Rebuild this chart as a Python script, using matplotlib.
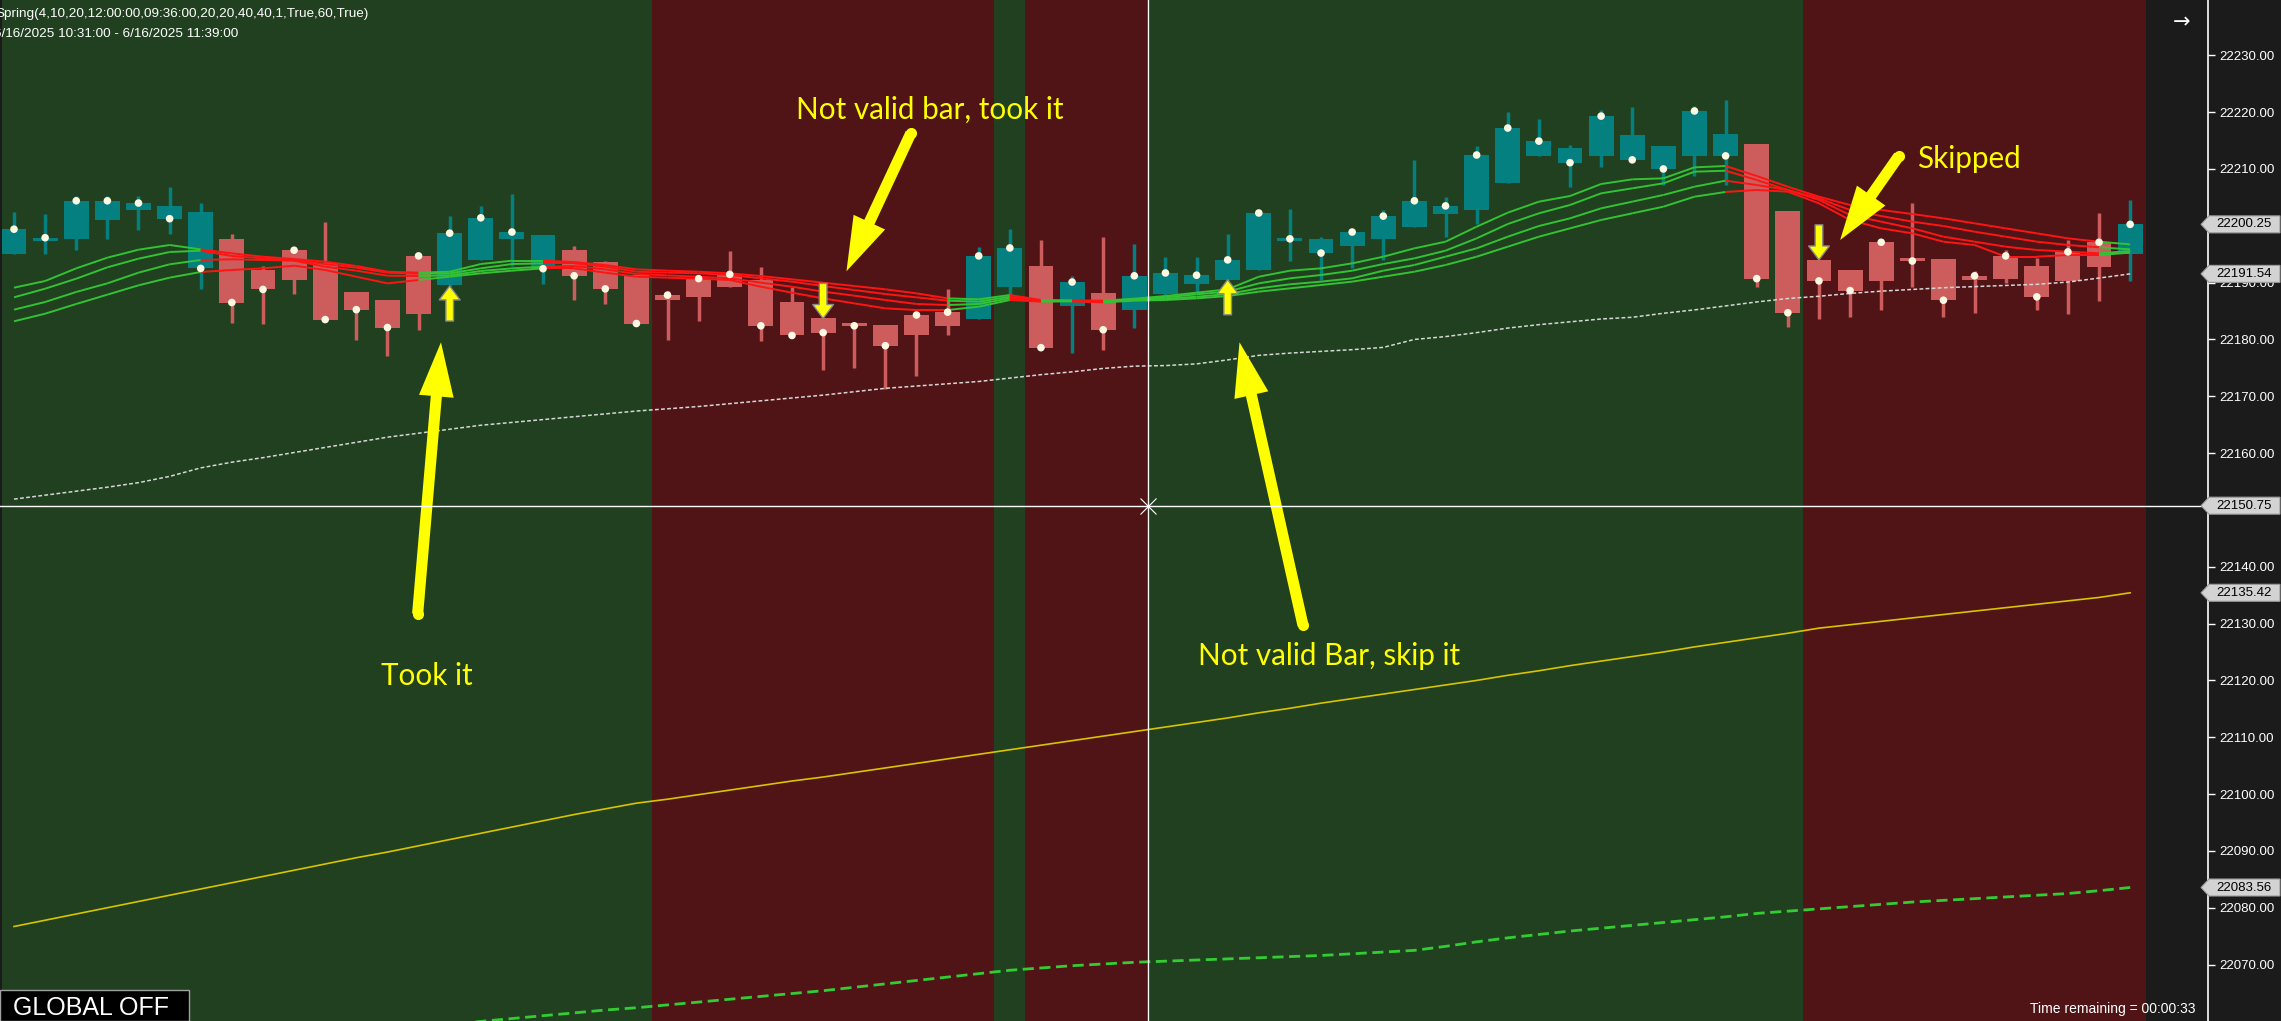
import matplotlib
matplotlib.use("Agg")
import matplotlib.pyplot as plt
import matplotlib.transforms as mtransforms
from matplotlib.collections import LineCollection
from matplotlib.patches import Polygon, Rectangle
import numpy as np

plt.rcParams['font.family'] = ['Liberation Sans', 'DejaVu Sans']

# one-minute bars, 6/16/2025 10:31 .. 11:39
opens = [22195.1, 22197.4, 22197.6, 22201.1, 22202.8, 22203.5, 22202.4, 22197.7, 22192.2, 22190.5,
         22193.4, 22188.35, 22186.9, 22184.5, 22189.5, 22194.0, 22197.7, 22198.4, 22195.7, 22193.6,
         22191.3, 22187.0, 22187.5, 22189.3, 22190.5, 22186.6, 22183.7, 22182.55, 22182.5, 22180.7,
         22182.4, 22183.65, 22189.3, 22192.9, 22185.8, 22188.2, 22185.1, 22188.05, 22189.8, 22190.5,
         22192.3, 22197.4, 22197.7, 22196.5, 22197.7, 22199.8, 22202.1, 22202.8, 22207.6, 22212.3,
         22213.7, 22212.3, 22216.0, 22214.0, 22212.2, 22216.15, 22214.4, 22202.6, 22194.0, 22192.2,
         22190.3, 22194.4, 22194.15, 22190.5, 22190.7, 22192.9, 22190.3, 22192.8, 22195.1]
highs = [22202.4, 22202.1, 22205.2, 22205.2, 22205.2, 22206.8, 22204.0, 22198.55, 22192.9, 22195.7,
         22200.7, 22188.35, 22186.9, 22194.7, 22201.7, 22203.5, 22205.6, 22198.4, 22196.4, 22193.8,
         22191.3, 22188.5, 22190.7, 22195.6, 22192.7, 22189.3, 22183.7, 22183.1, 22182.5, 22184.3,
         22188.9, 22196.3, 22199.4, 22197.5, 22191.2, 22198.0, 22196.8, 22194.5, 22194.5, 22198.55,
         22202.25, 22202.95, 22198.0, 22198.9, 22202.8, 22211.6, 22205.1, 22214.0, 22220.0, 22218.8,
         22214.2, 22220.4, 22220.9, 22214.0, 22221.1, 22222.1, 22214.4, 22202.6, 22194.0, 22192.2,
         22197.1, 22204.0, 22194.15, 22192.0, 22195.7, 22194.3, 22197.5, 22202.25, 22204.5]
lows = [22195.0, 22195.1, 22195.8, 22197.7, 22199.3, 22198.6, 22188.8, 22182.95, 22182.8, 22188.05,
        22183.5, 22179.96, 22177.1, 22181.7, 22189.4, 22194.0, 22193.0, 22189.8, 22186.9, 22186.3,
        22182.7, 22179.96, 22183.3, 22189.3, 22179.8, 22180.6, 22174.7, 22175.0, 22171.2, 22173.6,
        22180.7, 22183.6, 22187.2, 22178.5, 22177.7, 22178.2, 22182.1, 22186.9, 22188.2, 22190.5,
        22192.2, 22193.8, 22190.5, 22192.6, 22194.0, 22199.8, 22198.0, 22200.4, 22207.5, 22212.3,
        22206.9, 22210.4, 22211.6, 22207.1, 22208.8, 22207.1, 22189.3, 22182.25, 22183.65, 22184.0,
        22185.1, 22189.3, 22184.0, 22184.7, 22190.0, 22185.1, 22184.5, 22186.8, 22190.3]
closes = [22199.4, 22197.9, 22204.4, 22204.4, 22204.0, 22201.25, 22192.5, 22186.5, 22188.8, 22195.7,
          22183.5, 22185.24, 22182.1, 22194.7, 22198.7, 22201.4, 22198.9, 22192.45, 22191.2, 22188.9,
          22182.8, 22187.8, 22190.7, 22191.45, 22182.4, 22180.7, 22181.2, 22182.4, 22178.9, 22184.3,
          22184.8, 22194.7, 22196.1, 22178.55, 22190.1, 22181.7, 22191.2, 22191.7, 22191.3, 22194.0,
          22202.25, 22197.7, 22195.2, 22198.9, 22201.7, 22204.4, 22203.5, 22212.45, 22217.2, 22214.9,
          22211.1, 22219.3, 22211.6, 22210.0, 22220.2, 22212.3, 22190.7, 22184.7, 22190.3, 22188.6,
          22197.1, 22193.8, 22186.9, 22191.2, 22194.7, 22187.5, 22195.4, 22197.1, 22200.25]
# 1 = teal candle, 0 = red candle
bull = [1] * 7 + [0] * 7 + [1] * 4 + [0] * 13 + [1, 1, 0, 1, 0] + [1] * 20 + [0] * 12 + [1]

# background session state per bar
session = 'g' * 21 + 'r' * 11 + 'g' + 'r' * 4 + 'g' * 21 + 'r' * 11

# four-line ribbon
ribbon_1 = [22189.11, 22190.28, 22192.51, 22194.39, 22195.79, 22196.62, 22195.85, 22195.15, 22194.56, 22194.15,
            22193.68, 22192.92, 22191.92, 22191.75, 22191.92, 22193.27, 22193.86, 22193.86, 22193.62, 22193.10,
            22192.34, 22192.10, 22191.92, 22191.63, 22191.16, 22190.58, 22189.99, 22189.40, 22188.82, 22188.11,
            22187.23, 22187.06, 22187.82, 22186.94, 22186.88, 22186.82, 22187.17, 22187.64, 22188.23, 22188.82,
            22191.04, 22192.10, 22192.51, 22193.39, 22194.56, 22196.03, 22197.20, 22199.84, 22202.31, 22204.24,
            22205.24, 22207.35, 22208.17, 22208.35, 22210.28, 22210.52, 22208.76, 22206.88, 22205.12, 22203.66,
            22202.78, 22202.07, 22201.31, 22200.43, 22199.55, 22198.67, 22197.79, 22197.20, 22196.73]
ribbon_2 = [22187.41, 22188.93, 22190.69, 22192.69, 22194.21, 22195.38, 22195.62, 22194.68, 22194.27, 22193.98,
            22193.27, 22192.63, 22191.75, 22191.57, 22191.63, 22192.51, 22193.27, 22193.39, 22193.39, 22192.80,
            22191.92, 22191.75, 22191.63, 22191.34, 22190.75, 22190.17, 22189.40, 22188.70, 22187.99, 22187.41,
            22186.82, 22186.65, 22187.52, 22186.82, 22186.82, 22186.70, 22187.06, 22187.41, 22187.94, 22188.41,
            22189.87, 22190.75, 22191.34, 22192.10, 22193.27, 22194.27, 22195.62, 22197.79, 22200.31, 22202.19,
            22203.66, 22205.71, 22206.59, 22207.47, 22209.52, 22209.69, 22208.06, 22206.30, 22204.83, 22202.78,
            22201.72, 22200.72, 22199.96, 22198.96, 22198.08, 22197.20, 22196.62, 22196.21, 22195.85]
ribbon_3 = [22185.24, 22186.59, 22188.35, 22189.87, 22191.75, 22193.22, 22193.98, 22194.10, 22193.98, 22193.86,
            22192.80, 22192.10, 22191.22, 22191.16, 22191.28, 22192.04, 22192.51, 22192.80, 22192.92, 22192.34,
            22191.51, 22191.28, 22191.04, 22190.75, 22189.99, 22189.28, 22188.41, 22187.70, 22186.94, 22186.24,
            22186.06, 22186.24, 22187.23, 22186.76, 22186.76, 22186.65, 22186.94, 22187.17, 22187.52, 22187.99,
            22188.99, 22189.70, 22190.17, 22190.75, 22192.10, 22193.10, 22194.56, 22196.03, 22198.08, 22199.96,
            22201.31, 22203.07, 22204.24, 22205.42, 22206.88, 22207.94, 22207.17, 22206.30, 22204.54, 22201.90,
            22200.72, 22199.55, 22198.08, 22197.20, 22196.32, 22195.74, 22195.45, 22195.15, 22195.56]
ribbon_4 = [22183.19, 22184.53, 22186.24, 22187.88, 22189.52, 22190.87, 22191.87, 22192.22, 22192.51, 22192.98,
            22192.22, 22191.04, 22189.87, 22190.46, 22191.04, 22191.63, 22192.10, 22192.51, 22192.51, 22191.75,
            22191.04, 22190.87, 22190.69, 22190.46, 22189.28, 22188.23, 22187.23, 22186.35, 22185.47, 22185.18,
            22185.18, 22185.76, 22186.94, 22186.65, 22186.70, 22186.53, 22186.82, 22186.94, 22187.23, 22187.64,
            22188.41, 22188.99, 22189.58, 22190.17, 22191.04, 22191.92, 22193.10, 22194.56, 22196.32, 22198.08,
            22199.55, 22201.02, 22202.19, 22203.36, 22205.12, 22205.95, 22206.30, 22206.00, 22203.95, 22201.02,
            22199.55, 22198.67, 22197.20, 22196.62, 22194.56, 22194.56, 22194.86, 22194.86, 22195.27]
# colour of each ribbon segment i -> i+1 (1 = green, 0 = red)
ribbon_up = [1] * 6 + [0] * 7 + [1] * 4 + [0] * 13 + [1, 1, 0, 1, 0] + [1] * 20 + [0] * 12 + [1]

slow_ma = [22151.9, 22152.6, 22153.3, 22154.0, 22154.8, 22155.9, 22157.4, 22158.4, 22159.2, 22160.1,
           22161.0, 22161.9, 22162.8, 22163.5, 22164.2, 22164.9, 22165.4, 22165.9, 22166.4, 22166.9,
           22167.4, 22167.8, 22168.2, 22168.7, 22169.2, 22169.7, 22170.2, 22170.8, 22171.4, 22171.8,
           22172.2, 22172.6, 22173.2, 22173.8, 22174.3, 22174.9, 22175.3, 22175.4, 22175.7, 22176.4,
           22177.2, 22177.6, 22177.9, 22178.2, 22178.6, 22180.0, 22180.5, 22181.2, 22182.0, 22182.6,
           22183.1, 22183.6, 22183.9, 22184.6, 22185.2, 22185.9, 22186.6, 22187.2, 22187.6, 22188.1,
           22188.5, 22188.8, 22189.1, 22189.3, 22189.5, 22189.7, 22190.1, 22190.8, 22191.54]
yellow_ma = [22076.7, 22077.8, 22078.9, 22080.0, 22081.1, 22082.2, 22083.3, 22084.4, 22085.5, 22086.6,
             22087.7, 22088.8, 22089.8, 22090.9, 22092.0, 22093.1, 22094.2, 22095.3, 22096.4, 22097.4,
             22098.4, 22099.1, 22099.9, 22100.7, 22101.5, 22102.3, 22103.0, 22103.8, 22104.6, 22105.4,
             22106.2, 22107.0, 22107.8, 22108.6, 22109.4, 22110.2, 22111.0, 22111.8, 22112.6, 22113.4,
             22114.3, 22115.1, 22116.0, 22116.8, 22117.6, 22118.4, 22119.2, 22120.0, 22120.9, 22121.7,
             22122.6, 22123.4, 22124.2, 22125.0, 22125.9, 22126.7, 22127.5, 22128.3, 22129.2, 22129.8,
             22130.4, 22131.0, 22131.6, 22132.2, 22132.8, 22133.4, 22134.0, 22134.6, 22135.42]
green_start = 13
green_ma = [22058.8, 22059.4, 22060.0, 22060.5, 22061.0, 22061.5, 22062.0, 22062.4, 22062.9, 22063.4,
            22063.9, 22064.4, 22064.9, 22065.4, 22066.0, 22066.6, 22067.2, 22067.8, 22068.4, 22069.0,
            22069.4, 22069.8, 22070.1, 22070.4, 22070.6, 22070.8, 22071.0, 22071.2, 22071.4, 22071.6,
            22071.9, 22072.2, 22072.5, 22073.2, 22074.0, 22074.7, 22075.3, 22075.9, 22076.4, 22076.9,
            22077.4, 22077.9, 22078.4, 22079.0, 22079.4, 22079.8, 22080.2, 22080.6, 22081.0, 22081.3,
            22081.6, 22081.9, 22082.2, 22082.5, 22083.0, 22083.56]

cross_x = 36.45
cross_y = 22150.75

# entry markers: (bar, direction)
signals = [(14, 'up'), (26, 'down'), (39, 'up'), (58, 'down')]

# notes: text, text position, arrow tail, arrow tip
notes = [
    ("Took it", (13.25, 22120.7), (12.97, 22131.7), (13.72, 22179.5)),
    ("Not valid bar, took it", (29.42, 22220.4), (28.82, 22216.3), (26.75, 22192.0)),
    ("Not valid Bar, skip it", (42.27, 22124.3), (41.42, 22129.7), (39.38, 22179.5)),
    ("Skipped", (62.83, 22211.8), (60.57, 22212.3), (58.68, 22197.5)),
]

# ---------------------------------------------------------------
W, H = 2281, 1021
AX_RIGHT = 2208
PX_BAR = 31.12
DARK = '#1b1b1b'
BAND = {'g': '#20401f', 'r': '#501416'}
TEAL = '#058080'
RED = '#cd5c5c'
YEL = '#ffff00'

fig = plt.figure(figsize=(W / 100, H / 100), dpi=100, facecolor=DARK)
ax = fig.add_axes([0, 0, AX_RIGHT / W, 1])
ax.set_facecolor(DARK)
x0 = -14 / PX_BAR
ax.set_xlim(x0, x0 + AX_RIGHT / PX_BAR)
ax.set_ylim(22060.07, 22239.73)

# session bands
start = 0
for i in range(1, len(session) + 1):
    if i == len(session) or session[i] != session[start]:
        left = start - 0.5 if start > 0 else x0 + 2 / PX_BAR
        ax.axvspan(left, i - 0.5, color=BAND[session[start]], lw=0, zorder=0)
        start = i

x = np.arange(len(closes))
cols = [TEAL if b else RED for b in bull]

# candles
ax.vlines(x, lows, highs, colors=cols, lw=2.5, zorder=2)
o = np.array(opens)
c = np.array(closes)
bottom = np.minimum(o, c)
height = np.maximum(np.abs(c - o), 0.45)
ax.bar(x, height, bottom=bottom, width=0.8, color=cols, lw=0, zorder=2)

# slow lines
ax.plot(x, slow_ma, color='#d6d6d6', lw=1.1, ls=(0, (2.5, 1.5)), zorder=3)
ax.plot(x, yellow_ma, color='#d8c400', lw=1.2, zorder=3)
ax.plot(x[green_start:], green_ma, color='#33cc33', lw=2.0, ls=(0, (4, 2)), zorder=3)

# ribbon
seg_cols = ['#33c233' if u else '#ff1414' for u in ribbon_up]
for line in (ribbon_4, ribbon_3, ribbon_2, ribbon_1):
    segs = [[(i, line[i]), (i + 1, line[i + 1])] for i in range(len(line) - 1)]
    ax.add_collection(LineCollection(segs, colors=seg_cols, linewidths=1.4, zorder=4))

# close dots
ax.scatter(x, closes, s=30, color='#fdf8e2', edgecolors='none', zorder=5)

# signal arrows
for bar, d in signals:
    tip = lows[bar] if d == 'up' else highs[bar]
    off = -35 if d == 'up' else 35
    ax.annotate('', xy=(bar, tip), xytext=(0, off), textcoords='offset pixels',
                arrowprops=dict(arrowstyle='simple,head_length=1.0,head_width=1.5,tail_width=0.55',
                                mutation_scale=10, fc=YEL, ec='#8a8a8a', lw=1,
                                shrinkA=0, shrinkB=0), zorder=6)

# notes with big arrows
for txt, pos, tail, tip in notes:
    ax.annotate('', xy=tip, xytext=tail,
                arrowprops=dict(arrowstyle='simple,head_length=3.9,head_width=2.5,tail_width=0.8',
                                mutation_scale=10, fc=YEL, ec='none',
                                shrinkA=0, shrinkB=0), zorder=7)
    ax.plot([tail[0]], [tail[1]], 'o', ms=8, color=YEL, mec='none', zorder=7)
    ax.text(pos[0], pos[1], txt, color=YEL, fontsize=21.3, family='Lato',
            ha='center', va='center', zorder=7)

# crosshair
ax.axvline(cross_x, color='white', lw=1, zorder=8)
ax.axhline(cross_y, color='white', lw=1, zorder=8)
ax.plot([cross_x], [cross_y], marker='x', ms=11, mew=0.8, color='white', zorder=8)

# axes styling
for s in ('top', 'bottom', 'left'):
    ax.spines[s].set_visible(False)
ax.spines['right'].set_color('white')
ax.spines['right'].set_linewidth(1.2)
ax.set_xticks([])
ax.yaxis.tick_right()
ticks = np.arange(22070, 22231, 10)
ax.set_yticks(ticks)
# the 22150 label sits under the crosshair tag
ax.set_yticklabels(['' if t == 22150 else f'{t:.2f}' for t in ticks])
ax.tick_params(axis='y', colors='white', length=5, width=1, labelsize=9.5, pad=3)

# price tags on the right axis
tags = [closes[-1], slow_ma[-1], cross_y, yellow_ma[-1], green_ma[-1]]
trans = mtransforms.blended_transform_factory(fig.transFigure, ax.transData)
hh = 8.5 / 5.683
for v in tags:
    pts = [(2201 / W, v), (2209 / W, v + hh), (2280 / W, v + hh), (2280 / W, v - hh), (2209 / W, v - hh)]
    fig.add_artist(Polygon(pts, closed=True, transform=trans, fc='#d3d3d3', ec='#9a9a9a',
                           lw=0.8, zorder=10))
    fig.add_artist(plt.Text(2244 / W, v, f'{v:.2f}', transform=trans, color='black',
                            fontsize=9.5, ha='center', va='center', zorder=11))

# header text
fig.text(-5 / W, 1 - 14 / H, 'Spring(4,10,20,12:00:00,09:36:00,20,20,40,40,1,True,60,True)',
         color='white', fontsize=9.7, va='center')
fig.text(-6 / W, 1 - 34 / H, '6/16/2025 10:31:00 - 6/16/2025 11:39:00',
         color='white', fontsize=9.7, va='center')
fig.text(2182 / W, 1 - 22 / H, '\u2192', color='white', fontsize=15, ha='center', va='center',
         family='DejaVu Sans')

# bottom overlays
fig.add_artist(Rectangle((0, 0), 189 / W, 31 / H, transform=fig.transFigure,
                         fc='black', ec='#a0a0a0', lw=1, zorder=10))
fig.text(13 / W, 13 / H, 'GLOBAL OFF', color='white', fontsize=18, va='center', zorder=11)
fig.text(2195 / W, 12 / H, 'Time remaining = 00:00:33', color='white', fontsize=10,
         ha='right', va='center', zorder=11)

fig.savefig('out.png', dpi=100, facecolor=DARK)
